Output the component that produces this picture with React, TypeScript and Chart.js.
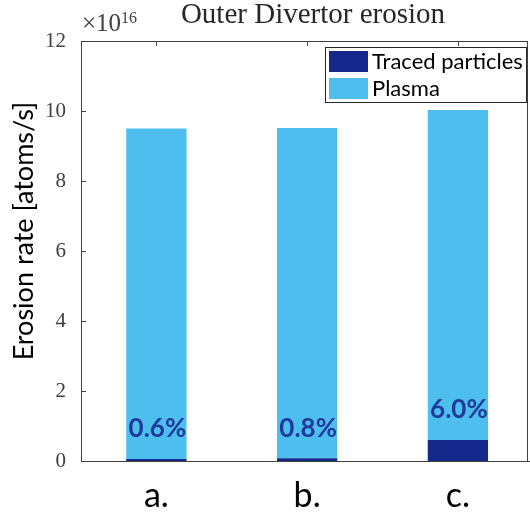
import React, { useEffect, useRef } from "react";
import { Chart, registerables } from "chart.js";

Chart.register(...registerables);

const categories = ["a.", "b.", "c."];
const tracedValues = [0.057, 0.076, 0.6];
const plasmaValues = [9.44, 9.44, 9.43];
const percentLabels = ["0.6%", "0.8%", "6.0%"];
const yTicks = [0, 2, 4, 6, 8, 10, 12];
const seriesNames = ["Traced particles", "Plasma"];
const xPositions = [1, 2, 3];

const TRACED_COLOR = "#13288A";
const PLASMA_COLOR = "#4DBEEE";
const AXIS_COLOR = "#404040";
const SANS = "Lato, 'Open Sans', sans-serif";
const SERIF = "'Liberation Serif', 'DejaVu Serif', serif";

const decorPlugin = {
  id: "decor",
  afterDraw(chart: any) {
    const ctx = chart.ctx as CanvasRenderingContext2D;
    const area = chart.chartArea;
    const yScale = chart.scales.y;
    const xScale = chart.scales.x;
    ctx.save();

    // top and right box lines, bottom extension
    ctx.strokeStyle = AXIS_COLOR;
    ctx.lineWidth = 1;
    ctx.beginPath();
    ctx.moveTo(area.left, area.top + 0.5);
    ctx.lineTo(area.right, area.top + 0.5);
    ctx.moveTo(area.right - 0.5, area.top);
    ctx.lineTo(area.right - 0.5, area.bottom);
    ctx.stroke();
    ctx.fillStyle = AXIS_COLOR;
    ctx.fillRect(area.right - 1, Math.round(area.bottom), 4, 1);

    // inward ticks on left axis
    ctx.beginPath();
    yTicks.forEach((v) => {
      const y = Math.round(yScale.getPixelForValue(v)) + 0.5;
      ctx.moveTo(area.left, y);
      ctx.lineTo(area.left + 5, y);
    });
    // ticks on top axis pointing down
    xPositions.forEach((p) => {
      const x = Math.round(xScale.getPixelForValue(p)) + 0.5;
      ctx.moveTo(x, area.top);
      ctx.lineTo(x, area.top + 5);
    });
    ctx.stroke();

    // category labels
    ctx.fillStyle = "#000";
    ctx.font = `34px ${SANS}`;
    ctx.textAlign = "center";
    ctx.textBaseline = "alphabetic";
    xPositions.forEach((p, i) => {
      ctx.fillText(categories[i], xScale.getPixelForValue(p), 507);
    });

    // title
    ctx.fillStyle = "#262626";
    ctx.font = `29px ${SERIF}`;
    ctx.textAlign = "center";
    ctx.textBaseline = "alphabetic";
    ctx.fillText("Outer Divertor erosion", 313, 23);

    // exponent
    ctx.fillStyle = "#404040";
    ctx.textAlign = "left";
    ctx.font = `25px ${SERIF}`;
    ctx.fillText("\u00d710", 82, 31);
    const w = ctx.measureText("\u00d710").width;
    ctx.font = `16px ${SERIF}`;
    ctx.fillText("16", 82 + w, 23);

    // y axis label
    ctx.save();
    ctx.translate(33, 231);
    ctx.rotate(-Math.PI / 2);
    ctx.font = `27px ${SANS}`;
    ctx.fillStyle = "#000";
    ctx.textAlign = "center";
    ctx.textBaseline = "alphabetic";
    ctx.fillText("Erosion rate [atoms/s]", 0, 0);
    ctx.restore();

    // percent labels above traced bars
    const meta = chart.getDatasetMeta(0);
    ctx.font = `bold 26px ${SANS}`;
    ctx.fillStyle = "#1E3A9A";
    ctx.textAlign = "center";
    ctx.textBaseline = "middle";
    meta.data.forEach((bar: any, i: number) => {
      ctx.fillText(percentLabels[i], bar.x + 1, bar.y - 30);
    });

    // legend
    const lx = 325, ly = 47, lw = 201, lh = 55;
    ctx.fillStyle = "#fff";
    ctx.fillRect(lx, ly, lw, lh);
    ctx.strokeStyle = "#262626";
    ctx.lineWidth = 1;
    ctx.strokeRect(lx + 0.5, ly + 0.5, lw, lh);
    const colors = [TRACED_COLOR, PLASMA_COLOR];
    ctx.font = `22px ${SANS}`;
    ctx.textAlign = "left";
    ctx.textBaseline = "middle";
    seriesNames.forEach((name, i) => {
      const sy = ly + 4 + i * 27;
      ctx.fillStyle = colors[i];
      ctx.fillRect(lx + 4, sy, 39, 21);
      ctx.fillStyle = "#000";
      ctx.fillText(name, lx + 47, sy + 11);
    });

    ctx.restore();
  },
};

export default function App() {
  const ref = useRef<HTMLCanvasElement>(null);
  useEffect(() => {
    if (!ref.current) return;
    const chart = new Chart(ref.current, {
      type: "bar",
      data: {
        datasets: [
          {
            label: seriesNames[0],
            data: xPositions.map((x, i) => ({ x, y: tracedValues[i] })),
            backgroundColor: TRACED_COLOR,
            borderWidth: 0,
            barPercentage: 0.4,
            categoryPercentage: 1,
          },
          {
            label: seriesNames[1],
            data: xPositions.map((x, i) => ({ x, y: plasmaValues[i] })),
            backgroundColor: PLASMA_COLOR,
            borderWidth: 0,
            barPercentage: 0.4,
            categoryPercentage: 1,
          },
        ],
      },
      options: {
        animation: false,
        responsive: false,
        devicePixelRatio: 1,
        layout: { padding: { top: 41, right: 2, left: 0, bottom: 0 } },
        plugins: {
          legend: { display: false },
          title: { display: false },
          tooltip: { enabled: false },
        },
        scales: {
          x: {
            type: "linear",
            stacked: true,
            offset: false,
            min: 0.5,
            max: 3.465,
            grid: { display: false },
            border: { display: true, color: AXIS_COLOR, width: 1 },
            afterBuildTicks(scale: any) {
              scale.ticks = xPositions.map((v) => ({ value: v }));
            },
            ticks: { display: false },
            afterFit(scale: any) {
              scale.height = 51;
              scale.paddingLeft = 0;
              scale.paddingRight = 0;
            },
          },
          y: {
            stacked: true,
            min: 0,
            max: 12,
            grid: { display: false },
            border: { display: true, color: AXIS_COLOR, width: 1 },
            afterBuildTicks(scale: any) {
              scale.ticks = yTicks.map((v) => ({ value: v }));
            },
            ticks: {
              color: "#404040",
              font: { family: SERIF, size: 21 },
              padding: 7,
            },
            afterFit(scale: any) {
              scale.width = 81;
              scale.paddingTop = 0;
              scale.paddingBottom = 0;
            },
          },
        },
      },
      plugins: [decorPlugin],
    });
    return () => chart.destroy();
  }, []);
  return (
    <canvas
      ref={ref}
      width={530}
      height={512}
      style={{ display: "block", position: "fixed", left: 0, top: 0, width: 530, height: 512 }}
    />
  );
}
